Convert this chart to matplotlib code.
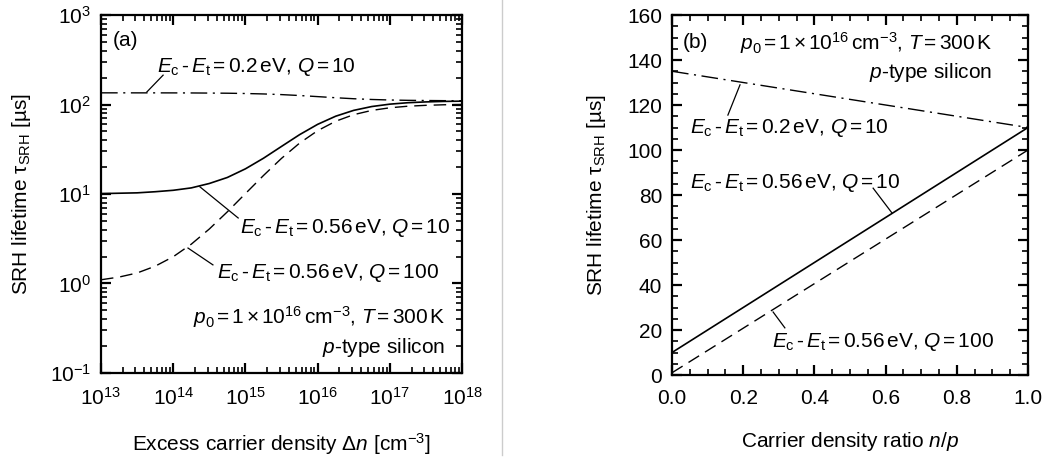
import numpy as np
import matplotlib
matplotlib.use('Agg')
import matplotlib.pyplot as plt
from matplotlib.ticker import LogLocator, MultipleLocator, NullFormatter, FormatStrFormatter
from matplotlib.lines import Line2D

plt.rcParams['font.family'] = ['Liberation Sans', 'DejaVu Sans']
plt.rcParams['mathtext.fontset'] = 'custom'
plt.rcParams['mathtext.rm'] = 'Liberation Sans'
plt.rcParams['mathtext.it'] = 'Liberation Sans:italic'
plt.rcParams['mathtext.bf'] = 'Liberation Sans:bold'
plt.rcParams['axes.unicode_minus'] = False

# Panel (a): lifetime vs excess carrier density
dn = [1e13, 1.78e13, 3.16e13, 5.62e13, 1e14, 1.78e14, 3.16e14, 5.62e14,
      1e15, 1.78e15, 3.16e15, 5.62e15, 1e16, 1.78e16, 3.16e16, 5.62e16,
      1e17, 1.78e17, 3.16e17, 5.62e17, 1e18]
tau_056_q10 = [10.1, 10.2, 10.3, 10.6, 11.0, 11.7, 13.1, 15.3, 19.1, 25.1, 34.0,
               46.0, 60.0, 74.0, 86.0, 94.9, 100.9, 104.7, 106.9, 108.3, 109.0]
tau_056_q100 = [1.10, 1.18, 1.31, 1.56, 1.99, 2.75, 4.06, 6.32, 10.1, 16.1, 25.0,
                37.0, 51.0, 65.0, 77.0, 85.9, 91.9, 95.7, 97.9, 99.3, 100.0]
tau_02_q10 = [135.0, 135.0, 134.9, 134.9, 134.8, 134.6, 134.2, 133.7, 132.7, 131.2,
              129.0, 126.0, 122.5, 119.0, 116.0, 113.8, 112.3, 111.3, 110.8, 110.4, 110.2]

# Panel (b): lifetime vs carrier density ratio n/p
ratio = [0.0, 1.0]
tau_b_056_q10 = [10.0, 110.0]
tau_b_056_q100 = [1.0, 100.0]
tau_b_02_q10 = [135.0, 110.0]

lbl_02 = r'$E_\mathrm{c}\,$-$\,E_\mathrm{t}\,$=$\,$0.2$\,$eV, $Q\,$=$\,$10'
lbl_056_10 = r'$E_\mathrm{c}\,$-$\,E_\mathrm{t}\,$=$\,$0.56$\,$eV, $Q\,$=$\,$10'
lbl_056_100 = r'$E_\mathrm{c}\,$-$\,E_\mathrm{t}\,$=$\,$0.56$\,$eV, $Q\,$=$\,$100'
lbl_cond = r'$p_0\,$=$\,$1$\,$×$\,$10$^{16}\,$cm$^{-3}$, $T\,$=$\,$300$\,$K'
lbl_si = r'$p$-type silicon'

FS = 15
dash = (0, (9, 5))
dashdot = (0, (12, 4, 1.5, 4))


def leader(ax, x0, y0, x1, y1):
    ax.add_line(Line2D([x0, x1], [y0, y1], transform=ax.transAxes,
                       color='black', lw=0.9))


fig = plt.figure(figsize=(10.51, 4.59), dpi=100)
ax1 = fig.add_axes([0.0961, 0.1874, 0.3435, 0.7799])
ax2 = fig.add_axes([0.6394, 0.1830, 0.3387, 0.7843])

for ax in (ax1, ax2):
    for s in ax.spines.values():
        s.set_linewidth(1.6)
    ax.tick_params(which='both', direction='in', top=True, right=True,
                   labelsize=FS)
    ax.tick_params(which='major', length=7, width=1.6)
    ax.tick_params(which='minor', length=4, width=1.2)
    ax.tick_params(axis='x', which='both', pad=10)
    ax.tick_params(axis='y', which='both', pad=7)

# ---- panel (a)
ax1.plot(dn, tau_02_q10, color='black', lw=1.0, linestyle=dashdot)
ax1.plot(dn, tau_056_q10, color='black', lw=1.2)
ax1.plot(dn, tau_056_q100, color='black', lw=1.0, linestyle=dash)
ax1.set_xscale('log')
ax1.set_yscale('log')
ax1.set_xlim(1e13, 1e18)
ax1.set_ylim(1e-1, 1e3)
ax1.xaxis.set_major_locator(LogLocator(base=10, numticks=10))
ax1.xaxis.set_minor_locator(LogLocator(base=10, subs=np.arange(2, 10), numticks=20))
ax1.yaxis.set_minor_locator(LogLocator(base=10, subs=np.arange(2, 10), numticks=20))
ax1.xaxis.set_minor_formatter(NullFormatter())
ax1.yaxis.set_minor_formatter(NullFormatter())
ax1.set_xlabel(r'Excess carrier density $\Delta n$ [cm$^{-3}$]', fontsize=FS, labelpad=16)
ax1.set_ylabel(r'SRH lifetime τ$_\mathrm{SRH}$ [µs]', fontsize=FS, labelpad=12)

ax1.text(0.033, 0.930, '(a)', transform=ax1.transAxes, fontsize=FS, va='center')
ax1.text(0.155, 0.855, lbl_02, transform=ax1.transAxes, fontsize=FS, va='center')
ax1.text(0.385, 0.405, lbl_056_10, transform=ax1.transAxes, fontsize=FS, va='center')
ax1.text(0.321, 0.279, lbl_056_100, transform=ax1.transAxes, fontsize=FS, va='center')
ax1.text(0.953, 0.156, lbl_cond, transform=ax1.transAxes, fontsize=FS, va='center', ha='right')
ax1.text(0.953, 0.070, lbl_si, transform=ax1.transAxes, fontsize=FS, va='center', ha='right')

leader(ax1, 0.127, 0.785, 0.172, 0.832)
leader(ax1, 0.274, 0.520, 0.380, 0.433)
leader(ax1, 0.241, 0.349, 0.310, 0.302)

# ---- panel (b)
ax2.plot(ratio, tau_b_02_q10, color='black', lw=1.0, linestyle=dashdot)
ax2.plot(ratio, tau_b_056_q10, color='black', lw=1.2)
ax2.plot(ratio, tau_b_056_q100, color='black', lw=1.0, linestyle=dash)
ax2.set_xlim(0, 1)
ax2.set_ylim(0, 160)
ax2.xaxis.set_major_locator(MultipleLocator(0.2))
ax2.xaxis.set_minor_locator(MultipleLocator(0.05))
ax2.yaxis.set_major_locator(MultipleLocator(20))
ax2.yaxis.set_minor_locator(MultipleLocator(5))
ax2.xaxis.set_major_formatter(FormatStrFormatter('%.1f'))
ax2.set_xlabel(r'Carrier density ratio $n/p$', fontsize=FS, labelpad=16)
ax2.set_ylabel(r'SRH lifetime τ$_\mathrm{SRH}$ [µs]', fontsize=FS, labelpad=14)

ax2.text(0.031, 0.925, '(b)', transform=ax2.transAxes, fontsize=FS, va='center')
ax2.text(0.899, 0.922, lbl_cond, transform=ax2.transAxes, fontsize=FS, va='center', ha='right')
ax2.text(0.899, 0.839, lbl_si, transform=ax2.transAxes, fontsize=FS, va='center', ha='right')
ax2.text(0.051, 0.686, lbl_02, transform=ax2.transAxes, fontsize=FS, va='center')
ax2.text(0.051, 0.533, lbl_056_10, transform=ax2.transAxes, fontsize=FS, va='center')
ax2.text(0.281, 0.092, lbl_056_100, transform=ax2.transAxes, fontsize=FS, va='center')

leader(ax2, 0.157, 0.722, 0.191, 0.806)
leader(ax2, 0.565, 0.519, 0.618, 0.450)
leader(ax2, 0.317, 0.131, 0.284, 0.175)

# thin separator between panels
fig.add_artist(Line2D([502 / 1051, 502 / 1051], [0.008, 1.0], transform=fig.transFigure,
                      color='#cccccc', lw=1.0))

fig.savefig('out.png', dpi=100)
